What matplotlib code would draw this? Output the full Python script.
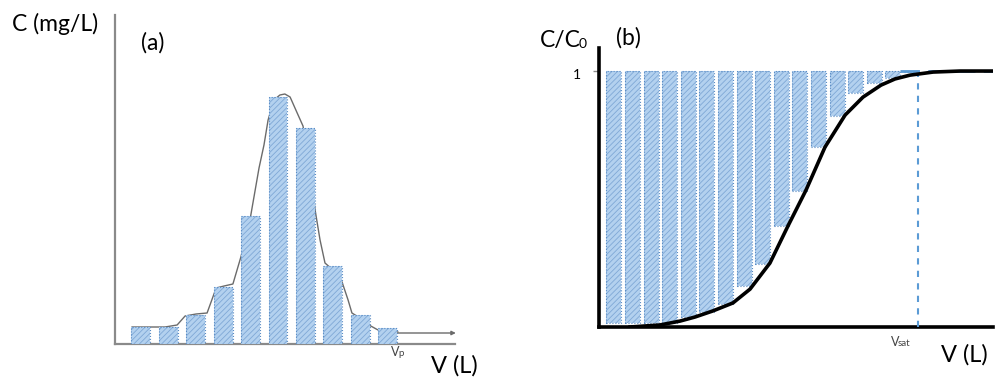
import matplotlib
matplotlib.use('Agg')
import matplotlib.pyplot as plt

plt.rcParams['font.family'] = ['Lato', 'DejaVu Sans']
plt.rcParams['hatch.linewidth'] = 0.6

#----------------------------
#          DATA
#----------------------------
# (a) elution peak: bar positions (volume) and heights (mg/L)
Va = [1, 2, 3, 4, 5, 6, 7, 8, 9, 10]
Ca = [1.7, 1.7, 2.9, 5.7, 12.8, 24.7, 21.6, 7.8, 2.9, 1.6]
# (a) smooth curve drawn through the bars
Va_curve = [0.69, 1.35, 1.89, 2.33, 2.62, 3.02, 3.42, 3.75, 4.04, 4.36, 4.65,
            4.98, 5.31, 5.49, 5.64, 5.85, 6.07, 6.25, 6.44, 6.65, 6.91, 7.13,
            7.35, 7.53, 7.71, 8.0, 8.33, 8.55, 8.69, 8.98, 9.31, 9.64, 10.0, 10.36]
Ca_curve = [1.7, 1.7, 1.7, 1.9, 2.8, 3.0, 3.1, 5.6, 5.8, 6.0, 8.7,
            12.4, 17.6, 19.9, 22.4, 24.4, 24.9, 25.0, 24.7, 23.4, 21.8, 18.4,
            13.4, 10.4, 8.1, 7.4, 6.2, 4.4, 3.1, 2.6, 1.9, 1.4, 1.3, 1.2]
Vp_arrow = [10.36, 12.47]
C_arrow = 1.1

# (b) breakthrough: bars hang from C/C0 = 1 down to the value
Vb = [0.8, 1.8, 2.8, 3.8, 4.8, 5.8, 6.8, 7.8, 8.8, 9.8, 10.8, 11.8, 12.8,
      13.8, 14.8, 15.8, 16.8]
Cb = [0.016, 0.016, 0.016, 0.016, 0.039, 0.059, 0.09, 0.16, 0.246, 0.395,
      0.531, 0.703, 0.824, 0.914, 0.953, 0.973, 0.996]
Vb_curve = [1.67, 3.28, 4.35, 5.16, 6.13, 7.2, 8.12, 9.19, 10.16, 11.13,
            12.15, 13.23, 14.19, 15.16, 15.91, 16.72, 17.96, 19.41, 21.18]
Cb_curve = [0.0, 0.008, 0.023, 0.039, 0.063, 0.094, 0.148, 0.25, 0.395, 0.535,
            0.703, 0.828, 0.898, 0.945, 0.969, 0.984, 0.996, 1.0, 1.0]
V_sat = 17.15
V_level = [16.2, 21.18]

fill = '#b3d1ef'
hatchc = '#7fa8d6'
edge = '#5b8cc4'
dash_blue = '#5b9bd5'

W, H = 996, 379
fig = plt.figure(figsize=(W/100, H/100), dpi=100)

def bars(ax, x, h, bottom, width):
    ax.bar(x, h, width=width, bottom=bottom, color=fill, edgecolor=hatchc,
           hatch='//////', linewidth=0, zorder=3)
    ax.bar(x, h, width=width, bottom=bottom, facecolor='none', edgecolor=edge,
           linestyle=':', linewidth=0.8, zorder=4)

#----------------------------
#          PANEL (a)
#----------------------------
ax1 = fig.add_axes([115/W, (H-344)/H, 340/W, 329/H])
ax1.plot(Va_curve, Ca_curve, '-', color='#6b6b6b', lw=1.0, zorder=2)
bars(ax1, Va, Ca, 0, 0.69)
ax1.annotate('', xy=(Vp_arrow[1], C_arrow), xytext=(Vp_arrow[0], C_arrow),
             arrowprops=dict(arrowstyle='-|>', color='#6b6b6b', lw=1,
                             mutation_scale=6, shrinkA=0, shrinkB=0),
             annotation_clip=False)
ax1.set_xlim(0.07, 12.44)
ax1.set_ylim(0, 32.9)
for s in ['top', 'right']:
    ax1.spines[s].set_visible(False)
for s in ['left', 'bottom']:
    ax1.spines[s].set_color('#8a8a8a')
    ax1.spines[s].set_linewidth(1.6)
ax1.set_xticks([])
ax1.set_yticks([])
ax1.patch.set_alpha(0)

#----------------------------
#          PANEL (b)
#----------------------------
ax2 = fig.add_axes([599/W, (H-327)/H, 394/W, 279/H])
heights = [1 - c for c in Cb]
bars(ax2, Vb, heights, Cb, 0.8)
ax2.plot(V_level, [1, 1], color=dash_blue, lw=2, dashes=(7, 3), zorder=5)
ax2.plot([V_sat, V_sat], [0, 0.985], color=dash_blue, lw=1.5, dashes=(3, 3), zorder=5)
ax2.plot(Vb_curve, Cb_curve, '-', color='black', lw=2.6, zorder=6)
ax2.set_xlim(0, 21.18)
ax2.set_ylim(0, 1.09)
for s in ['top', 'right']:
    ax2.spines[s].set_visible(False)
for s in ['left', 'bottom']:
    ax2.spines[s].set_color('black')
    ax2.spines[s].set_linewidth(2.6)
ax2.set_xticks([])
ax2.set_yticks([1])
ax2.set_yticklabels([''])
ax2.tick_params(axis='y', length=4, color='#8a8a8a', width=1)
ax2.patch.set_alpha(0)

#----------------------------
#          TEXT
#----------------------------
def txt(x, y, s, size, **kw):
    fig.text(x/W, 1 - y/H, s, fontsize=size, va='center', **kw)

txt(12, 24, 'C (mg/L)', 16.5)
txt(141, 43, '(a)', 16.5)
txt(431, 366, 'V (L)', 17)
txt(391, 352, 'V', 9, color='#444444')
txt(398.5, 354, 'p', 7, color='#444444')

txt(540, 40, 'C/C', 16.5)
txt(579, 44, '0', 10)
txt(616, 38, '(b)', 16.5)
txt(573, 75, '1', 10)
txt(891, 342, 'V', 9, color='#444444')
txt(898, 343.5, 'sat', 7, color='#444444')
txt(941, 355, 'V (L)', 17)

plt.savefig('out.png', dpi=100)
